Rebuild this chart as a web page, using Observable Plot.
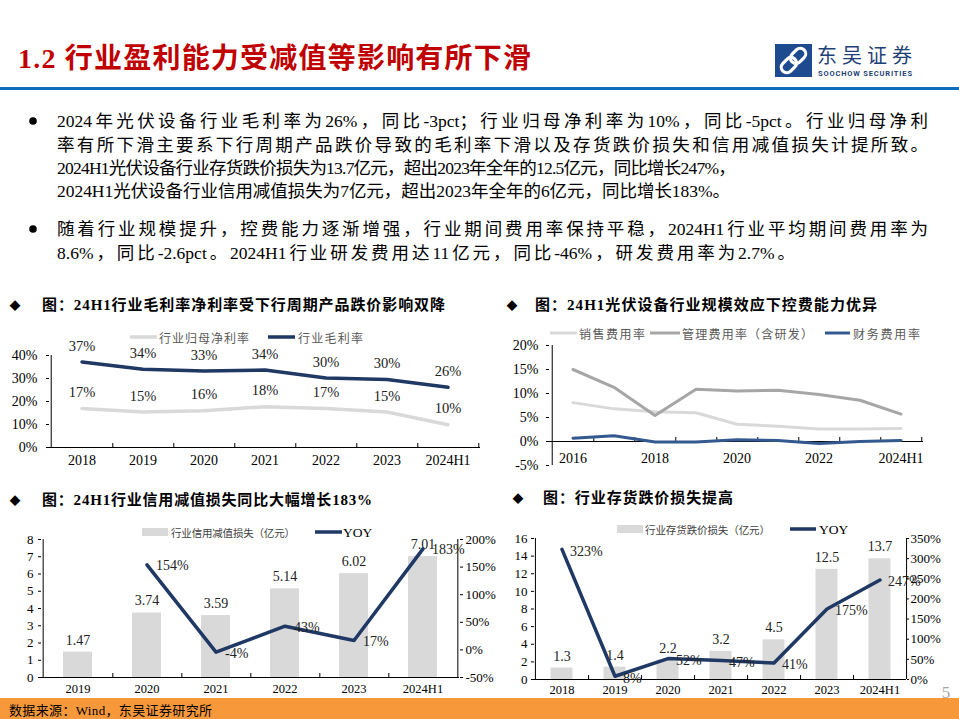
<!DOCTYPE html>
<html lang="zh-CN">
<head>
<meta charset="utf-8">
<script src="https://cdn.jsdelivr.net/npm/d3@7"></script>
<script src="https://cdn.jsdelivr.net/npm/@observablehq/plot@0.6"></script>
<style>
html,body{margin:0;padding:0;background:#fff;}
body{width:959px;height:719px;position:relative;overflow:hidden;font-family:"Liberation Serif","Noto Sans CJK SC",serif;}
.bl{position:absolute;left:57px;height:24px;line-height:24px;font-size:17.5px;color:#000;white-space:nowrap;}
.bl.j{white-space:normal;text-align:justify;text-align-last:justify;}
</style>
</head>
<body>
<script>
// ---------------- data ----------------
// Chart 1: gross / net margin
const marginYears = ["2018","2019","2020","2021","2022","2023","2024H1"];
const grossMargin = [37.2,34.0,33.3,33.7,30.2,29.6,26.2];
const netMargin   = [17.0,15.4,16.0,17.7,17.0,15.4,9.9];
const marginTicks = [0,10,20,30,40];

// Chart 2: expense ratios
const expenseYears = ["2016","2017","2018","2019","2020","2021","2022","2023","2024H1"];
const sellingRate  = [8.1,6.8,6.2,6.0,3.6,3.2,2.6,2.6,2.7];
const adminRate    = [15.0,11.3,5.4,10.9,10.5,10.7,9.8,8.6,5.7];
const financeRate  = [0.7,1.2,-0.1,-0.1,0.35,0.2,-0.4,0.0,0.2];
const expenseTicks = [-5,0,5,10,15,20];
const expenseTickLabels = ["2016","2018","2020","2022","2024H1"];

// Chart 3: credit impairment loss
const creditYears = ["2019","2020","2021","2022","2023","2024H1"];
const creditLoss  = [1.47,3.74,3.59,5.14,6.02,7.01];
const creditYoy   = [null,154,-4,43,17,183];
const creditLeftTicks  = [0,1,2,3,4,5,6,7,8];
const creditRightTicks = [-50,0,50,100,150,200];

// Chart 4: inventory impairment loss
const invYears = ["2018","2019","2020","2021","2022","2023","2024H1"];
const invLoss  = [1.3,1.4,2.2,3.2,4.5,12.5,13.7];
const invYoy   = [323,8,52,47,41,175,247];
const invLeftTicks  = [0,2,4,6,8,10,12,14,16];
const invRightTicks = [0,50,100,150,200,250,300,350];

// ---------------- texts ----------------
const pageTitle = "1.2 行业盈利能力受减值等影响有所下滑";
const bulletLines = [
  "2024年光伏设备行业毛利率为26%，同比-3pct；行业归母净利率为10%，同比-5pct。行业归母净利",
  "率有所下滑主要系下行周期产品跌价导致的毛利率下滑以及存货跌价损失和信用减值损失计提所致。",
  "2024H1光伏设备行业存货跌价损失为13.7亿元，超出2023年全年的12.5亿元，同比增长247%，",
  "2024H1光伏设备行业信用减值损失为7亿元，超出2023年全年的6亿元，同比增长183%。",
  "随着行业规模提升，控费能力逐渐增强，行业期间费用率保持平稳，2024H1行业平均期间费用率为",
  "8.6%，同比-2.6pct。2024H1行业研发费用达11亿元，同比-46%，研发费用率为2.7%。"
];
const chartTitles = [
  "图：24H1行业毛利率净利率受下行周期产品跌价影响双降",
  "图：24H1光伏设备行业规模效应下控费能力优异",
  "图：24H1行业信用减值损失同比大幅增长183%",
  "图：行业存货跌价损失提高"
];
const legend1 = ["行业归母净利率","行业毛利率"];
const legend2 = ["销售费用率","管理费用率（含研发）","财务费用率"];
const legend3 = ["行业信用减值损失（亿元）","YOY"];
const legend4 = ["行业存货跌价损失（亿元）","YOY"];
const sourceNote = "数据来源：Wind，东吴证券研究所";

// ---------------- colours ----------------
const NAVY = "#1F3864", LIGHT = "#D9D9D9", MID = "#A6A6A6", BLUE = "#34598F";
const FONT = '"Liberation Serif","Noto Sans CJK SC",serif';
const CJK = '"Noto Sans CJK SC","Liberation Serif",sans-serif';

// ---------------- page decoration ----------------
const page = d3.select("body").append("svg")
  .attr("width",959).attr("height",719)
  .style("position","absolute").style("left","0px").style("top","0px");

function txt(x, y, s, o = {}) {
  const t = page.append("text").attr("x",x).attr("y",y)
    .attr("dominant-baseline","central")
    .attr("font-size", o.size || 14).attr("fill", o.fill || "#000")
    .attr("font-family", o.family || FONT).text(s);
  if (o.weight) t.attr("font-weight", o.weight);
  if (o.len) t.attr("textLength", o.len).attr("lengthAdjust","spacing");
  if (o.anchor) t.attr("text-anchor", o.anchor);
  return t;
}
function lineSw(x1, x2, y, color, w) {
  page.append("line").attr("x1",x1).attr("x2",x2).attr("y1",y).attr("y2",y)
    .attr("stroke",color).attr("stroke-width",w);
}
function rectSw(x, y, w, h, color) {
  page.append("rect").attr("x",x).attr("y",y).attr("width",w).attr("height",h).attr("fill",color);
}

// title
txt(18, 58, pageTitle, {size:28, weight:700, fill:"#C00000", len:513});
// logo
page.append("rect").attr("x",775).attr("y",44).attr("width",37).attr("height",33).attr("fill","#1E4B8F");
const lg = page.append("g").attr("transform","translate(793.5,60.5) rotate(-45)");
lg.append("rect").attr("x",-15).attr("y",-5.5).attr("width",17).attr("height",11).attr("rx",5.5)
  .attr("fill","none").attr("stroke","#fff").attr("stroke-width",3.2);
lg.append("rect").attr("x",-2).attr("y",-5.5).attr("width",17).attr("height",11).attr("rx",5.5)
  .attr("fill","none").attr("stroke","#fff").attr("stroke-width",3.2);
txt(817, 54, "东吴证券", {size:20, fill:"#1F3F77", family:CJK, len:95});
txt(818, 73, "SOOCHOW SECURITIES", {size:7.5, fill:"#1F3F77", family:'"Roboto","DejaVu Sans",sans-serif', weight:700, len:94});
rectSw(0, 87, 959, 3, "#0A6EBD");

// bullets
const bulletY = [121,145,168,191,229,253];
const bulletTarget = [871,871,678,673,871,738];
page.append("circle").attr("cx",33).attr("cy",121).attr("r",3.8).attr("fill","#000");
page.append("circle").attr("cx",33).attr("cy",229).attr("r",3.8).attr("fill","#000");
bulletLines.forEach((s,i) => {
  const div = d3.select("body").append("div")
    .attr("class", "bl")
    .attr("lang","zh-CN")
    .style("top", (bulletY[i] - 12) + "px")
    .text(s);
  const w = div.node().getBoundingClientRect().width;
  if (w < bulletTarget[i] - 1) {
    div.classed("j", true).style("width", bulletTarget[i] + "px");
  } else {
    div.style("letter-spacing", ((bulletTarget[i] - w) / [...s].length) + "px");
  }
});

// chart titles
const ctPos = [[15,42,305,403],[512,535,305,342],[15,42,500,330],[518,543,498,190]];
chartTitles.forEach((s,i) => {
  const [dx, tx, ty, len] = ctPos[i];
  txt(dx, ty, "◆", {size:11, family:CJK, anchor:"middle"});
  txt(tx, ty, s, {size:15, weight:700, len});
});

// legends
lineSw(130,157,337,LIGHT,3.5); txt(159,337,legend1[0],{size:12,fill:"#595959",family:CJK,len:90});
lineSw(268,295,337,NAVY,3.5);  txt(298,337,legend1[1],{size:12,fill:"#595959",family:CJK,len:65});

lineSw(550,577,333,LIGHT,3); txt(579,333,legend2[0],{size:12,fill:"#595959",family:CJK,len:66});
lineSw(650,680,333,MID,3);   txt(682,333,legend2[1],{size:12,fill:"#595959",family:CJK,len:131});
lineSw(825,850,333,BLUE,3);  txt(853,333,legend2[2],{size:12,fill:"#595959",family:CJK,len:67});

rectSw(142,528,26,8,LIGHT); txt(171,532,legend3[0],{size:10.5,fill:"#404040",family:CJK,len:124});
lineSw(315,342,532,NAVY,3.5); txt(343,532,legend3[1],{size:13.5,fill:"#000"});

rectSw(617,525,26,8,LIGHT); txt(645,529,legend4[0],{size:10.5,fill:"#404040",family:CJK,len:125});
lineSw(790,816,529,NAVY,3.5); txt(819,529,legend4[1],{size:13.5,fill:"#000"});

// footer
rectSw(0, 698, 959, 21, "#F7983A");
txt(9, 710, sourceNote, {size:13, len:203});
txt(946, 692, "5", {size:17, fill:"#A6A6A6", anchor:"middle"});

// ---------------- charts ----------------
function place(svg, left, top) {
  svg.style.position = "absolute";
  svg.style.left = left + "px";
  svg.style.top = top + "px";
  svg.style.overflow = "visible";
  svg.style.background = "transparent";
  document.body.appendChild(svg);
}
const baseStyle = {fontFamily: FONT, fontSize: "14px", color: "#000", background: "transparent", overflow: "visible"};

// Chart 1
{
  const data = marginYears.map((year,i) => ({year, gross: grossMargin[i], net: netMargin[i]}));
  const W = 480, mL = 49, mR = 0;
  const bw = (W - mL - mR) / marginYears.length;
  const svg = Plot.plot({
    width: W, height: 170, marginLeft: mL, marginRight: mR, marginTop: 45, marginBottom: 33,
    style: baseStyle,
    x: {type: "band", domain: marginYears, padding: 0, label: null},
    y: {domain: [0, 40], label: null},
    marks: [
      Plot.axisY({ticks: marginTicks, tickFormat: d => d + "%", tickSize: 3, tickPadding: 9, fontSize: 14, label: null}),
      Plot.axisX({tickSize: 0, tickPadding: 8, fontSize: 14, label: null}),
      Plot.ruleY([0], {stroke: "#000"}),
      Plot.ruleX([marginYears[0]], {dx: -bw/2, stroke: "#000"}),
      Plot.ruleX(marginYears, {x: d => d, y1: () => 0, y2: () => 0, insetTop: -4, dx: bw/2, stroke: "#000"}),
      Plot.lineY(data, {x: "year", y: "net", stroke: LIGHT, strokeWidth: 3.5}),
      Plot.lineY(data, {x: "year", y: "gross", stroke: NAVY, strokeWidth: 3.5}),
      Plot.text(data, {x: "year", y: "gross", text: d => Math.round(d.gross) + "%", dy: -16, fontSize: 14.5, fill: "#222"}),
      Plot.text(data, {x: "year", y: "net", text: d => Math.round(d.net) + "%", dy: -16, fontSize: 14.5, fill: "#222"})
    ]
  });
  place(svg, 0, 310);
}

// Chart 2
{
  const data = expenseYears.map((year,i) => ({year, selling: sellingRate[i], admin: adminRate[i], finance: financeRate[i]}));
  const W = 479, mL = 69, mR = 36;
  const bw = (W - mL - mR) / expenseYears.length;
  const svg = Plot.plot({
    width: W, height: 170, marginLeft: mL, marginRight: mR, marginTop: 35, marginBottom: 15,
    style: baseStyle,
    x: {type: "band", domain: expenseYears, padding: 0, axis: null, label: null},
    y: {domain: [-5, 20], label: null},
    marks: [
      Plot.axisY({ticks: expenseTicks, tickFormat: d => d + "%", tickSize: 3, tickPadding: 8, fontSize: 14, label: null}),
      Plot.ruleX([expenseYears[0]], {dx: -bw/2, stroke: "#000"}),
      Plot.ruleY([0], {stroke: "#000"}),
      Plot.ruleX(expenseYears, {x: d => d, y1: () => 0, y2: () => 0, insetTop: -4, dx: bw/2, stroke: "#000"}),
      Plot.text(expenseTickLabels, {x: d => d, y: () => 0, dy: 17, fontSize: 14, fill: "#000"}),
      Plot.lineY(data, {x: "year", y: "selling", stroke: LIGHT, strokeWidth: 3}),
      Plot.lineY(data, {x: "year", y: "admin", stroke: MID, strokeWidth: 3}),
      Plot.lineY(data, {x: "year", y: "finance", stroke: BLUE, strokeWidth: 3})
    ]
  });
  place(svg, 480, 310);
}

// Chart 3
{
  const data = creditYears.map((year,i) => ({year, loss: creditLoss[i], yoy: creditYoy[i]}));
  const W = 500, mL = 41, mR = 41, mT = 29, mB = 23, H = 190;
  const bw = (W - mL - mR) / creditYears.length;
  const bars = Plot.plot({
    width: W, height: H, marginLeft: mL, marginRight: mR, marginTop: mT, marginBottom: mB,
    style: baseStyle,
    x: {type: "band", domain: creditYears, padding: 0, label: null},
    y: {domain: [0, 8], label: null},
    marks: [
      Plot.barY(data, {x: "year", y: "loss", fill: LIGHT, insetLeft: 20, insetRight: 20}),
      Plot.axisY({ticks: creditLeftTicks, tickSize: 3, tickPadding: 5, fontSize: 13, label: null}),
      Plot.axisX({tickSize: 0, tickPadding: 7, fontSize: 12.5, label: null}),
      Plot.ruleY([0], {stroke: "#000"}),
      Plot.ruleX([creditYears[0]], {dx: -bw/2, stroke: "#000"}),
      Plot.ruleX([creditYears[creditYears.length-1]], {dx: bw/2, stroke: "#000"}),
      Plot.ruleX(creditYears.slice(0,-1), {x: d => d, y1: () => 0, y2: () => 0, insetTop: -4, dx: bw/2, stroke: "#000"}),
      Plot.text(data, {x: "year", y: "loss", text: d => d.loss.toFixed(2), dy: -12, fontSize: 14, fill: "#222"})
    ]
  });
  place(bars, 0, 510);
  const yoyData = data.filter(d => d.yoy != null);
  const line = Plot.plot({
    width: W, height: H, marginLeft: mL, marginRight: mR, marginTop: mT, marginBottom: mB,
    style: baseStyle,
    x: {type: "band", domain: creditYears, padding: 0, axis: null, label: null},
    y: {domain: [-50, 200], label: null},
    marks: [
      Plot.axisY({anchor: "right", ticks: creditRightTicks, tickFormat: d => d + "%", tickSize: 3, tickPadding: 3, fontSize: 13, label: null}),
      Plot.lineY(yoyData, {x: "year", y: "yoy", stroke: NAVY, strokeWidth: 3.5}),
      Plot.text(yoyData, {x: "year", y: "yoy", text: d => d.yoy + "%", dx: 9, dy: 1, textAnchor: "start", fontSize: 14, fill: "#222"})
    ]
  });
  place(line, 0, 510);
}

// Chart 4
{
  const data = invYears.map((year,i) => ({year, loss: invLoss[i], yoy: invYoy[i]}));
  const W = 479, mL = 54, mR = 53, mT = 28, mB = 21, H = 190;
  const bw = (W - mL - mR) / invYears.length;
  const bars = Plot.plot({
    width: W, height: H, marginLeft: mL, marginRight: mR, marginTop: mT, marginBottom: mB,
    style: baseStyle,
    x: {type: "band", domain: invYears, padding: 0, label: null},
    y: {domain: [0, 16], label: null},
    marks: [
      Plot.barY(data, {x: "year", y: "loss", fill: LIGHT, insetLeft: 15.5, insetRight: 15.5}),
      Plot.axisY({ticks: invLeftTicks, tickSize: 3, tickPadding: 4, fontSize: 13, label: null}),
      Plot.axisX({tickSize: 0, tickPadding: 6, fontSize: 12.5, label: null}),
      Plot.ruleY([0], {stroke: "#000"}),
      Plot.ruleX([invYears[0]], {dx: -bw/2, stroke: "#000"}),
      Plot.ruleX([invYears[invYears.length-1]], {dx: bw/2, stroke: "#000"}),
      Plot.ruleX(invYears.slice(0,-1), {x: d => d, y1: () => 0, y2: () => 0, insetTop: -4, dx: bw/2, stroke: "#000"}),
      Plot.text(data, {x: "year", y: "loss", text: d => d.loss.toFixed(1), dy: -12, fontSize: 14, fill: "#222"})
    ]
  });
  place(bars, 480, 510);
  const line = Plot.plot({
    width: W, height: H, marginLeft: mL, marginRight: mR, marginTop: mT, marginBottom: mB,
    style: baseStyle,
    x: {type: "band", domain: invYears, padding: 0, axis: null, label: null},
    y: {domain: [0, 350], label: null},
    marks: [
      Plot.axisY({anchor: "right", ticks: invRightTicks, tickFormat: d => d + "%", tickSize: 2, tickPadding: 2, fontSize: 13, label: null}),
      Plot.lineY(data, {x: "year", y: "yoy", stroke: NAVY, strokeWidth: 3.5}),
      Plot.text(data, {x: "year", y: "yoy", text: d => d.yoy + "%", dx: 8, dy: 2, textAnchor: "start", fontSize: 14, fill: "#222"})
    ]
  });
  place(line, 480, 510);
}
</script>
</body>
</html>
